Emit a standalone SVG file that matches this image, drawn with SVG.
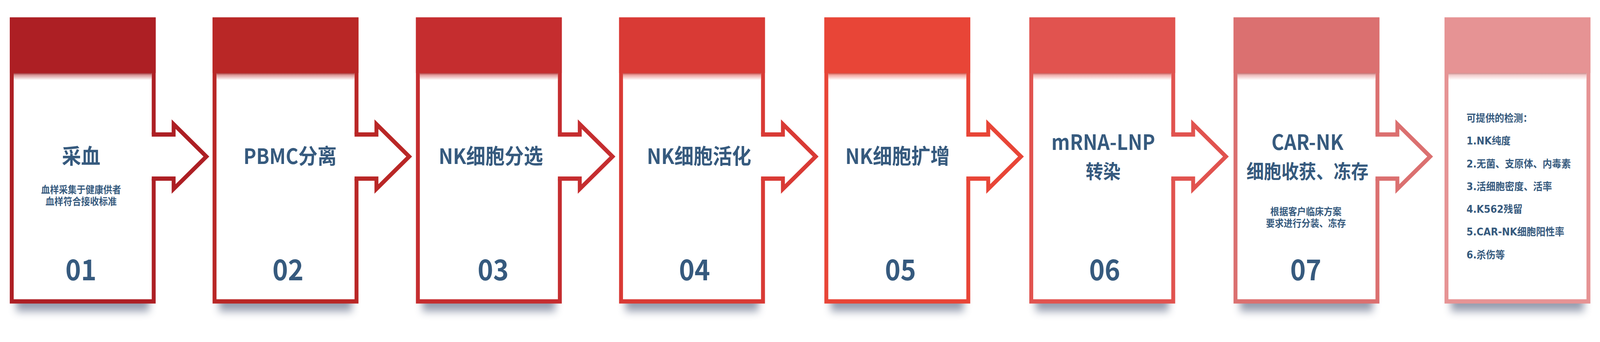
<svg xmlns="http://www.w3.org/2000/svg" width="4497" height="876" viewBox="0 0 4497 876" preserveAspectRatio="none">
<defs>
<style>
svg{width:100vw;height:100vh}
.bg{fill:#ffffff}
.shadow{fill:#4d5a78;opacity:.6}
.frame{fill:none;stroke-width:11;stroke-linejoin:miter;stroke-miterlimit:10}
.arrow{fill:none;stroke-width:11;stroke-linejoin:miter;stroke-miterlimit:10}
.t{font-family:"Noto Sans CJK SC","Noto Sans",sans-serif;font-weight:700;fill:#365a7e;text-anchor:middle}
.title{font-size:54px}
.title2{font-size:49px}
.sub{font-size:25px}
.num{font-size:74px}
.list{font-family:"DejaVu Sans","Noto Sans CJK SC",sans-serif;font-weight:700;fill:#365a7e;font-size:26.5px}
</style>
<filter id="blur" x="-20%" y="-100%" width="140%" height="300%">
<feGaussianBlur stdDeviation="11"/>
</filter>
<linearGradient id="fadeW" x1="0" y1="0" x2="0" y2="1">
<stop offset="0" stop-color="#fff" stop-opacity="0.1"/>
<stop offset="0.25" stop-color="#fff" stop-opacity="0.5"/>
<stop offset="1" stop-color="#fff" stop-opacity="1"/>
</linearGradient>
<linearGradient id="fadeD" x1="0" y1="0" x2="0" y2="1">
<stop offset="0" stop-color="#000" stop-opacity="0.12"/>
<stop offset="1" stop-color="#000" stop-opacity="0"/>
</linearGradient>
</defs>
<rect x="0" y="0" width="4497" height="876" fill="#ffffff"/>

<g id="step1" transform="translate(27.5,0)">
<rect class="shadow" x="18" y="745" width="374" height="52" filter="url(#blur)"/>
<rect class="bg" x="5" y="44.7" width="400" height="728"/>
<path class="frame" stroke="#ad1f24" d="M404.5,457.5 V772 H5.5 V50 H404.5 V344.5"/>
<rect x="0" y="44.7" width="410" height="142.3" fill="#ad1f24"/>
<rect x="11" y="187" width="388" height="18" fill="#ad1f24"/>
<rect x="11" y="187" width="388" height="18" fill="url(#fadeW)"/>
<rect x="11" y="187" width="388" height="6" fill="url(#fadeD)"/>
<text class="t title" x="200.5" y="420">采血</text>
<text class="t sub"><tspan x="200.5" y="495">血样采集于健康供者</tspan><tspan x="200.5" y="525">血样符合接收标准</tspan></text>
<text class="t num" x="200" y="718">01</text>
</g>

<g id="step2" transform="translate(597.5,0)">
<rect class="shadow" x="18" y="745" width="374" height="52" filter="url(#blur)"/>
<rect class="bg" x="5" y="44.7" width="400" height="728"/>
<path class="frame" stroke="#b92726" d="M404.5,457.5 V772 H5.5 V50 H404.5 V344.5"/>
<rect x="0" y="44.7" width="410" height="142.3" fill="#b92726"/>
<rect x="11" y="187" width="388" height="18" fill="#b92726"/>
<rect x="11" y="187" width="388" height="18" fill="url(#fadeW)"/>
<rect x="11" y="187" width="388" height="6" fill="url(#fadeD)"/>
<text class="t title" x="217.8" y="420">PBMC分离</text>
<text class="t num" x="212" y="718">02</text>
</g>

<g id="step3" transform="translate(1169,0)">
<rect class="shadow" x="18" y="745" width="374" height="52" filter="url(#blur)"/>
<rect class="bg" x="5" y="44.7" width="400" height="728"/>
<path class="frame" stroke="#c52d2f" d="M404.5,457.5 V772 H5.5 V50 H404.5 V344.5"/>
<rect x="0" y="44.7" width="410" height="142.3" fill="#c52d2f"/>
<rect x="11" y="187" width="388" height="18" fill="#c52d2f"/>
<rect x="11" y="187" width="388" height="18" fill="url(#fadeW)"/>
<rect x="11" y="187" width="388" height="6" fill="url(#fadeD)"/>
<text class="t title" x="210.6" y="420">NK细胞分选</text>
<text class="t num" x="217" y="718">03</text>
</g>

<g id="step4" transform="translate(1740,0)">
<rect class="shadow" x="18" y="745" width="374" height="52" filter="url(#blur)"/>
<rect class="bg" x="5" y="44.7" width="400" height="728"/>
<path class="frame" stroke="#d93a35" d="M404.5,457.5 V772 H5.5 V50 H404.5 V344.5"/>
<rect x="0" y="44.7" width="410" height="142.3" fill="#d93a35"/>
<rect x="11" y="187" width="388" height="18" fill="#d93a35"/>
<rect x="11" y="187" width="388" height="18" fill="url(#fadeW)"/>
<rect x="11" y="187" width="388" height="6" fill="url(#fadeD)"/>
<text class="t title" x="224.7" y="420">NK细胞活化</text>
<text class="t num" x="212" y="718">04</text>
</g>

<g id="step5" transform="translate(2317,0)">
<rect class="shadow" x="18" y="745" width="374" height="52" filter="url(#blur)"/>
<rect class="bg" x="5" y="44.7" width="400" height="728"/>
<path class="frame" stroke="#e84537" d="M404.5,457.5 V772 H5.5 V50 H404.5 V344.5"/>
<rect x="0" y="44.7" width="410" height="142.3" fill="#e84537"/>
<rect x="11" y="187" width="388" height="18" fill="#e84537"/>
<rect x="11" y="187" width="388" height="18" fill="url(#fadeW)"/>
<rect x="11" y="187" width="388" height="6" fill="url(#fadeD)"/>
<text class="t title" x="205.5" y="420">NK细胞扩增</text>
<text class="t num" x="214" y="718">05</text>
</g>

<g id="step6" transform="translate(2893,0)">
<rect class="shadow" x="18" y="745" width="374" height="52" filter="url(#blur)"/>
<rect class="bg" x="5" y="44.7" width="400" height="728"/>
<path class="frame" stroke="#e1534f" d="M404.5,457.5 V772 H5.5 V50 H404.5 V344.5"/>
<rect x="0" y="44.7" width="410" height="142.3" fill="#e1534f"/>
<rect x="11" y="187" width="388" height="18" fill="#e1534f"/>
<rect x="11" y="187" width="388" height="18" fill="url(#fadeW)"/>
<rect x="11" y="187" width="388" height="6" fill="url(#fadeD)"/>
<text class="t title" x="207.8" y="384">mRNA-LNP</text>
<text class="t title2" x="207.5" y="457">转染</text>
<text class="t num" x="212" y="718">06</text>
</g>

<g id="step7" transform="translate(3467,0)">
<rect class="shadow" x="18" y="745" width="374" height="52" filter="url(#blur)"/>
<rect class="bg" x="5" y="44.7" width="400" height="728"/>
<path class="frame" stroke="#db7070" d="M404.5,457.5 V772 H5.5 V50 H404.5 V344.5"/>
<rect x="0" y="44.7" width="410" height="142.3" fill="#db7070"/>
<rect x="11" y="187" width="388" height="18" fill="#db7070"/>
<rect x="11" y="187" width="388" height="18" fill="url(#fadeW)"/>
<rect x="11" y="187" width="388" height="6" fill="url(#fadeD)"/>
<text class="t title" x="207.8" y="384">CAR-NK</text>
<text class="t title2" x="207.8" y="457">细胞收获、冻存</text>
<text class="t sub"><tspan x="203.5" y="551">根据客户临床方案</tspan><tspan x="203.5" y="581">要求进行分装、冻存</tspan></text>
<text class="t num" x="203" y="718">07</text>
</g>

<g id="step8" transform="translate(4060,0)">
<rect class="shadow" x="18" y="745" width="374" height="52" filter="url(#blur)"/>
<rect class="bg" x="5" y="44.7" width="400" height="728"/>
<rect class="frame" stroke="#e69394" x="5.5" y="50" width="399" height="722"/>
<rect x="0" y="44.7" width="410" height="142.3" fill="#e69394"/>
<rect x="11" y="187" width="388" height="18" fill="#e69394"/>
<rect x="11" y="187" width="388" height="18" fill="url(#fadeW)"/>
<rect x="11" y="187" width="388" height="6" fill="url(#fadeD)"/>
<text class="list" x="61.7" y="312">可提供的检测：</text>
<text class="list" x="61.7" y="370.3">1.NK纯度</text>
<text class="list" x="61.7" y="428.6">2.无菌、支原体、内毒素</text>
<text class="list" x="61.7" y="486.9">3.活细胞密度、活率</text>
<text class="list" x="61.7" y="545.2">4.K562残留</text>
<text class="list" x="61.7" y="603.5">5.CAR-NK细胞阳性率</text>
<text class="list" x="61.7" y="661.8">6.杀伤等</text>
</g>

<g id="connectors">
<path class="arrow" stroke="#ad1f24" transform="translate(27.5,0)" d="M399,344.5 H460.5 V318 L552.5,401 L460.5,484 V457.5 H399"/>
<path class="arrow" stroke="#b92726" transform="translate(597.5,0)" d="M399,344.5 H460.5 V318 L552.5,401 L460.5,484 V457.5 H399"/>
<path class="arrow" stroke="#c52d2f" transform="translate(1169,0)" d="M399,344.5 H460.5 V318 L552.5,401 L460.5,484 V457.5 H399"/>
<path class="arrow" stroke="#d93a35" transform="translate(1740,0)" d="M399,344.5 H460.5 V318 L552.5,401 L460.5,484 V457.5 H399"/>
<path class="arrow" stroke="#e84537" transform="translate(2317,0)" d="M399,344.5 H460.5 V318 L552.5,401 L460.5,484 V457.5 H399"/>
<path class="arrow" stroke="#e1534f" transform="translate(2893,0)" d="M399,344.5 H460.5 V318 L552.5,401 L460.5,484 V457.5 H399"/>
<path class="arrow" stroke="#db7070" transform="translate(3467,0)" d="M399,344.5 H460.5 V318 L552.5,401 L460.5,484 V457.5 H399"/>
</g>
</svg>
